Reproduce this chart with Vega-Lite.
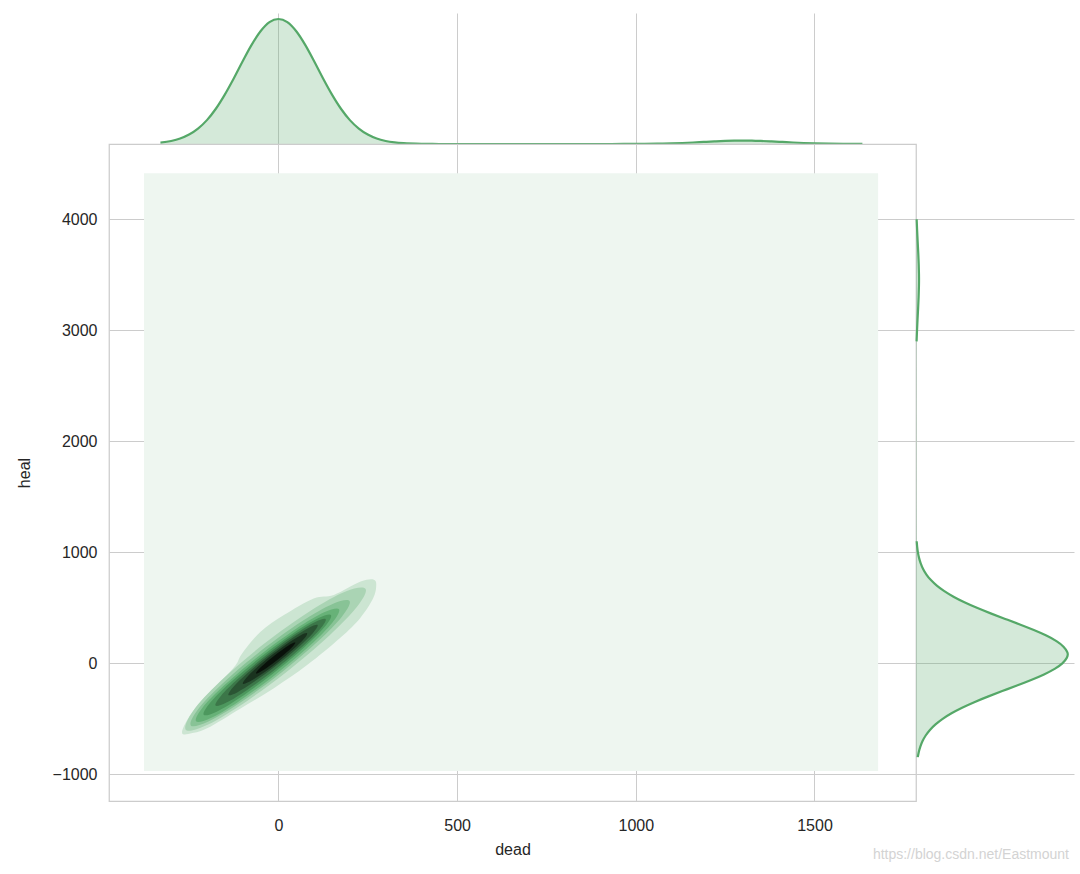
{
  "$schema": "https://vega.github.io/schema/vega-lite/v6.json",
  "padding": {"left": 15, "top": 13, "right": 5, "bottom": 0},
  "spacing": 0,
  "columns": 2,
  "bounds": "flush",
  "config": {
    "axis": {"labelFont": "Liberation Sans", "titleFont": "Liberation Sans", "labelFontSize": 16, "titleFontSize": 16, "labelColor": "#262626", "titleColor": "#262626", "gridColor": "#cccccc", "gridWidth": 1, "titleFontWeight": "normal"},
    "view": {"stroke": null}
  },
  "datasets": {
    "top": [
      {"dead": -330, "h": 0.0111}, {"dead": -300, "h": 0.0243}, {"dead": -275, "h": 0.0439}, {"dead": -250, "h": 0.0756},
      {"dead": -225, "h": 0.123}, {"dead": -200, "h": 0.191}, {"dead": -175, "h": 0.282}, {"dead": -150, "h": 0.395},
      {"dead": -125, "h": 0.524}, {"dead": -100, "h": 0.662}, {"dead": -75, "h": 0.793}, {"dead": -50, "h": 0.902},
      {"dead": -25, "h": 0.975}, {"dead": 0, "h": 1}, {"dead": 25, "h": 0.975}, {"dead": 50, "h": 0.902},
      {"dead": 75, "h": 0.793}, {"dead": 100, "h": 0.662}, {"dead": 125, "h": 0.524}, {"dead": 150, "h": 0.395},
      {"dead": 175, "h": 0.282}, {"dead": 200, "h": 0.191}, {"dead": 225, "h": 0.123}, {"dead": 250, "h": 0.0756},
      {"dead": 275, "h": 0.0439}, {"dead": 300, "h": 0.0243}, {"dead": 325, "h": 0.0127}, {"dead": 350, "h": 0.0063},
      {"dead": 400, "h": 0.0014}, {"dead": 450, "h": 0.0002}, {"dead": 500, "h": 0}, {"dead": 700, "h": 0},
      {"dead": 900, "h": 0.0001}, {"dead": 966, "h": 0.0003}, {"dead": 1020, "h": 0.0011}, {"dead": 1060, "h": 0.0025},
      {"dead": 1100, "h": 0.0052}, {"dead": 1130, "h": 0.0082}, {"dead": 1160, "h": 0.012}, {"dead": 1190, "h": 0.0164},
      {"dead": 1220, "h": 0.0207}, {"dead": 1250, "h": 0.0244}, {"dead": 1275, "h": 0.0263}, {"dead": 1300, "h": 0.027},
      {"dead": 1325, "h": 0.0263}, {"dead": 1350, "h": 0.0244}, {"dead": 1380, "h": 0.0207}, {"dead": 1410, "h": 0.0164},
      {"dead": 1440, "h": 0.012}, {"dead": 1470, "h": 0.0082}, {"dead": 1500, "h": 0.0052}, {"dead": 1540, "h": 0.0025},
      {"dead": 1580, "h": 0.0011}, {"dead": 1634, "h": 0.0003}
    ],
    "right": [
      {"seg": 1, "heal": -845, "h": 0.0117}, {"seg": 1, "heal": -800, "h": 0.0178}, {"seg": 1, "heal": -750, "h": 0.0278}, {"seg": 1, "heal": -700, "h": 0.0422},
      {"seg": 1, "heal": -650, "h": 0.0625}, {"seg": 1, "heal": -600, "h": 0.0902}, {"seg": 1, "heal": -550, "h": 0.1268}, {"seg": 1, "heal": -500, "h": 0.1738},
      {"seg": 1, "heal": -450, "h": 0.2318}, {"seg": 1, "heal": -400, "h": 0.3016}, {"seg": 1, "heal": -350, "h": 0.382}, {"seg": 1, "heal": -300, "h": 0.4717},
      {"seg": 1, "heal": -250, "h": 0.5675}, {"seg": 1, "heal": -200, "h": 0.665}, {"seg": 1, "heal": -150, "h": 0.7594}, {"seg": 1, "heal": -100, "h": 0.8449},
      {"seg": 1, "heal": -50, "h": 0.9158}, {"seg": 1, "heal": 0, "h": 0.9672}, {"seg": 1, "heal": 50, "h": 0.9953}, {"seg": 1, "heal": 80, "h": 1},
      {"seg": 1, "heal": 100, "h": 0.998}, {"seg": 1, "heal": 150, "h": 0.9748}, {"seg": 1, "heal": 200, "h": 0.9278}, {"seg": 1, "heal": 250, "h": 0.8604},
      {"seg": 1, "heal": 300, "h": 0.7774}, {"seg": 1, "heal": 350, "h": 0.6843}, {"seg": 1, "heal": 400, "h": 0.587}, {"seg": 1, "heal": 450, "h": 0.4905},
      {"seg": 1, "heal": 500, "h": 0.3994}, {"seg": 1, "heal": 550, "h": 0.3169}, {"seg": 1, "heal": 600, "h": 0.2449}, {"seg": 1, "heal": 650, "h": 0.1845},
      {"seg": 1, "heal": 700, "h": 0.1353}, {"seg": 1, "heal": 750, "h": 0.0968}, {"seg": 1, "heal": 800, "h": 0.0674}, {"seg": 1, "heal": 850, "h": 0.0457},
      {"seg": 1, "heal": 900, "h": 0.0302}, {"seg": 1, "heal": 950, "h": 0.0195}, {"seg": 1, "heal": 1000, "h": 0.0122}, {"seg": 1, "heal": 1050, "h": 0.0075},
      {"seg": 1, "heal": 1100, "h": 0.0045},
      {"seg": 2, "heal": 2900, "h": 0.0039}, {"seg": 2, "heal": 3000, "h": 0.0067},
      {"seg": 2, "heal": 3100, "h": 0.0102}, {"seg": 2, "heal": 3200, "h": 0.0141}, {"seg": 2, "heal": 3300, "h": 0.0175}, {"seg": 2, "heal": 3400, "h": 0.0196},
      {"seg": 2, "heal": 3460, "h": 0.02}, {"seg": 2, "heal": 3500, "h": 0.0198}, {"seg": 2, "heal": 3600, "h": 0.0181}, {"seg": 2, "heal": 3700, "h": 0.0148},
      {"seg": 2, "heal": 3800, "h": 0.011}, {"seg": 2, "heal": 3900, "h": 0.0073}, {"seg": 2, "heal": 4000, "h": 0.0044}
    ],
    "bg": [{"x1": -376, "x2": 1678, "y1": -970, "y2": 4414}],
    "kde": [
      {"lv": 1, "i": 0, "dead": -269.1, "heal": -630.9}, {"lv": 1, "i": 1, "dead": -240.4, "heal": -627.1},
      {"lv": 1, "i": 2, "dead": -199.6, "heal": -585.2}, {"lv": 1, "i": 3, "dead": -105.8, "heal": -405.7},
      {"lv": 1, "i": 4, "dead": -12.6, "heal": -223.8}, {"lv": 1, "i": 5, "dead": 80.2, "heal": -16.0},
      {"lv": 1, "i": 6, "dead": 173.2, "heal": 230.2}, {"lv": 1, "i": 7, "dead": 229.1, "heal": 409.5},
      {"lv": 1, "i": 8, "dead": 264.8, "heal": 583.8}, {"lv": 1, "i": 9, "dead": 273.6, "heal": 693.7},
      {"lv": 1, "i": 10, "dead": 267.3, "heal": 754.0}, {"lv": 1, "i": 11, "dead": 230.1, "heal": 736.4},
      {"lv": 1, "i": 12, "dead": 155.1, "heal": 615.8}, {"lv": 1, "i": 13, "dead": 98.7, "heal": 584.2},
      {"lv": 1, "i": 14, "dead": 15.4, "heal": 434.8}, {"lv": 1, "i": 15, "dead": -50.0, "heal": 284.9},
      {"lv": 1, "i": 16, "dead": -101.1, "heal": 90.9}, {"lv": 1, "i": 17, "dead": -119.8, "heal": -17.3},
      {"lv": 1, "i": 18, "dead": -162.0, "heal": -165.7}, {"lv": 1, "i": 19, "dead": -217.8, "heal": -345.0},
      {"lv": 1, "i": 20, "dead": -256.1, "heal": -514.0},

      {"lv": 2, "i": 0, "dead": -259.3, "heal": -598.4}, {"lv": 2, "i": 1, "dead": -206.4, "heal": -565.3},
      {"lv": 2, "i": 2, "dead": -108.6, "heal": -383.3}, {"lv": 2, "i": 3, "dead": 20.9, "heal": -81.7},
      {"lv": 2, "i": 4, "dead": 142.8, "heal": 251.5}, {"lv": 2, "i": 5, "dead": 221.0, "heal": 513.7},
      {"lv": 2, "i": 6, "dead": 243.6, "heal": 671.2}, {"lv": 2, "i": 7, "dead": 188.2, "heal": 648.2},
      {"lv": 2, "i": 8, "dead": 88.9, "heal": 472.4}, {"lv": 2, "i": 9, "dead": -41.2, "heal": 173.5},
      {"lv": 2, "i": 10, "dead": -162.5, "heal": -162.4}, {"lv": 2, "i": 11, "dead": -239.2, "heal": -430.8},

      {"lv": 3, "i": 0, "dead": -245.1, "heal": -558.9}, {"lv": 3, "i": 1, "dead": -198.8, "heal": -528.4},
      {"lv": 3, "i": 2, "dead": -112.7, "heal": -366.6}, {"lv": 3, "i": 3, "dead": 1.6, "heal": -99.9},
      {"lv": 3, "i": 4, "dead": 109.3, "heal": 194.1}, {"lv": 3, "i": 5, "dead": 178.6, "heal": 424.6},
      {"lv": 3, "i": 6, "dead": 199.0, "heal": 562.4}, {"lv": 3, "i": 7, "dead": 151.6, "heal": 535.5},
      {"lv": 3, "i": 8, "dead": 64.9, "heal": 376.2}, {"lv": 3, "i": 9, "dead": -49.6, "heal": 110.4},
      {"lv": 3, "i": 10, "dead": -157.1, "heal": -184.5}, {"lv": 3, "i": 11, "dead": -225.8, "heal": -417.5},

      {"lv": 4, "i": 0, "dead": -230.4, "heal": -521.9}, {"lv": 4, "i": 1, "dead": -189.2, "heal": -492.2},
      {"lv": 4, "i": 2, "dead": -112.0, "heal": -345.0}, {"lv": 4, "i": 3, "dead": -9.1, "heal": -104.2},
      {"lv": 4, "i": 4, "dead": 88.0, "heal": 160.0}, {"lv": 4, "i": 5, "dead": 150.8, "heal": 366.3},
      {"lv": 4, "i": 6, "dead": 169.6, "heal": 488.2}, {"lv": 4, "i": 7, "dead": 128.0, "heal": 459.7},
      {"lv": 4, "i": 8, "dead": 50.6, "heal": 313.4}, {"lv": 4, "i": 9, "dead": -52.3, "heal": 73.0},
      {"lv": 4, "i": 10, "dead": -149.4, "heal": -191.6}, {"lv": 4, "i": 11, "dead": -212.0, "heal": -398.8},

      {"lv": 5, "i": 0, "dead": -209.0, "heal": -463.9}, {"lv": 5, "i": 1, "dead": -172.9, "heal": -435.1},
      {"lv": 5, "i": 2, "dead": -104.5, "heal": -302.6}, {"lv": 5, "i": 3, "dead": -13.2, "heal": -87.7},
      {"lv": 5, "i": 4, "dead": 73.5, "heal": 146.8}, {"lv": 5, "i": 5, "dead": 129.7, "heal": 328.9},
      {"lv": 5, "i": 6, "dead": 147.0, "heal": 435.0}, {"lv": 5, "i": 7, "dead": 110.9, "heal": 406.2},
      {"lv": 5, "i": 8, "dead": 42.5, "heal": 273.7}, {"lv": 5, "i": 9, "dead": -48.8, "heal": 58.8},
      {"lv": 5, "i": 10, "dead": -135.5, "heal": -175.7}, {"lv": 5, "i": 11, "dead": -191.7, "heal": -357.8},

      {"lv": 6, "i": 0, "dead": -176.0, "heal": -380.5}, {"lv": 6, "i": 1, "dead": -145.3, "heal": -353.3},
      {"lv": 6, "i": 2, "dead": -86.4, "heal": -237.1}, {"lv": 6, "i": 3, "dead": -7.4, "heal": -50.3},
      {"lv": 6, "i": 4, "dead": 67.7, "heal": 152.2}, {"lv": 6, "i": 5, "dead": 116.8, "heal": 308.4},
      {"lv": 6, "i": 6, "dead": 132.3, "heal": 398.0}, {"lv": 6, "i": 7, "dead": 101.6, "heal": 370.7},
      {"lv": 6, "i": 8, "dead": 42.7, "heal": 254.5}, {"lv": 6, "i": 9, "dead": -36.2, "heal": 67.8},
      {"lv": 6, "i": 10, "dead": -111.4, "heal": -134.8}, {"lv": 6, "i": 11, "dead": -160.5, "heal": -291.0},

      {"lv": 7, "i": 0, "dead": -139.9, "heal": -285.5}, {"lv": 7, "i": 1, "dead": -115.4, "heal": -261.8},
      {"lv": 7, "i": 2, "dead": -68.0, "heal": -166.8}, {"lv": 7, "i": 3, "dead": -4.1, "heal": -15.3},
      {"lv": 7, "i": 4, "dead": 56.8, "heal": 148.2}, {"lv": 7, "i": 5, "dead": 96.8, "heal": 273.8},
      {"lv": 7, "i": 6, "dead": 109.7, "heal": 344.7}, {"lv": 7, "i": 7, "dead": 85.3, "heal": 321.0},
      {"lv": 7, "i": 8, "dead": 37.9, "heal": 226.0}, {"lv": 7, "i": 9, "dead": -26.0, "heal": 74.5},
      {"lv": 7, "i": 10, "dead": -86.9, "heal": -89.0}, {"lv": 7, "i": 11, "dead": -126.9, "heal": -214.6},

      {"lv": 8, "i": 0, "dead": -99.5, "heal": -183.6}, {"lv": 8, "i": 1, "dead": -81.7, "heal": -166.8},
      {"lv": 8, "i": 2, "dead": -47.6, "heal": -98.6}, {"lv": 8, "i": 3, "dead": -1.5, "heal": 10.4},
      {"lv": 8, "i": 4, "dead": 42.4, "heal": 128.4}, {"lv": 8, "i": 5, "dead": 71.1, "heal": 219.0},
      {"lv": 8, "i": 6, "dead": 80.3, "heal": 270.5}, {"lv": 8, "i": 7, "dead": 62.6, "heal": 253.9},
      {"lv": 8, "i": 8, "dead": 28.4, "heal": 185.7}, {"lv": 8, "i": 9, "dead": -17.6, "heal": 76.6},
      {"lv": 8, "i": 10, "dead": -61.6, "heal": -41.3}, {"lv": 8, "i": 11, "dead": -90.2, "heal": -131.9},

      {"lv": 9, "i": 0, "dead": -62.8, "heal": -90.9}, {"lv": 9, "i": 1, "dead": -52.2, "heal": -79.9},
      {"lv": 9, "i": 2, "dead": -31.3, "heal": -37.7}, {"lv": 9, "i": 3, "dead": -3.2, "heal": 29.2},
      {"lv": 9, "i": 4, "dead": 23.8, "heal": 101.3}, {"lv": 9, "i": 5, "dead": 41.4, "heal": 156.4},
      {"lv": 9, "i": 6, "dead": 47.3, "heal": 187.1}, {"lv": 9, "i": 7, "dead": 36.6, "heal": 176.2},
      {"lv": 9, "i": 8, "dead": 15.8, "heal": 133.9}, {"lv": 9, "i": 9, "dead": -12.4, "heal": 67.0},
      {"lv": 9, "i": 10, "dead": -39.3, "heal": -5.1}, {"lv": 9, "i": 11, "dead": -57.0, "heal": -60.1}
    ]
  },
  "concat": [
    {
      "width": 807, "height": 131,
      "data": {"name": "top"},
      "mark": {"type": "area", "color": "#55a868", "fillOpacity": 0.25, "interpolate": "monotone", "line": {"color": "#55a868", "strokeWidth": 2.2}},
      "encoding": {
        "x": {"field": "dead", "type": "quantitative", "scale": {"domain": [-474, 1784], "nice": false, "zero": false},
              "axis": {"values": [0, 500, 1000, 1500], "grid": true, "labels": false, "ticks": false, "domain": false, "title": null, "minExtent": 0, "maxExtent": 0}},
        "y": {"field": "h", "type": "quantitative", "scale": {"domain": [0, 1.048], "nice": false}, "axis": null}
      }
    },
    {
      "width": 158, "height": 131,
      "data": {"values": [{"t": ""}]},
      "mark": {"type": "text"},
      "encoding": {"text": {"field": "t"}}
    },
    {
      "width": 807, "height": 657,
      "view": {"stroke": "#cccccc", "strokeWidth": 1.25},
      "layer": [
        {
          "data": {"name": "bg"},
          "mark": {"type": "rect", "color": "#eef6f0"},
          "encoding": {
            "x": {"field": "x1", "type": "quantitative", "title": "dead", "scale": {"domain": [-474, 1784], "nice": false, "zero": false},
                  "axis": {"values": [0, 500, 1000, 1500], "format": "d", "grid": true, "ticks": false, "domain": false, "labelPadding": 16, "titlePadding": 8, "title": "dead"}},
            "x2": {"field": "x2"},
            "y": {"field": "y1", "type": "quantitative", "title": "heal", "scale": {"domain": [-1240, 4678], "nice": false, "zero": false},
                  "axis": {"values": [-1000, 0, 1000, 2000, 3000, 4000], "format": "d", "grid": true, "ticks": false, "domain": false, "labelPadding": 12, "titlePadding": 20, "title": "heal"}},
            "y2": {"field": "y2"}
          }
        },
        {
          "data": {"name": "kde"},
          "mark": {"type": "line", "filled": true, "interpolate": "cardinal-closed", "strokeWidth": 0},
          "encoding": {
            "x": {"field": "dead", "type": "quantitative", "title": "dead"},
            "y": {"field": "heal", "type": "quantitative", "title": "heal"},
            "color": {"field": "lv", "type": "ordinal", "legend": null,
                      "scale": {"domain": [1, 2, 3, 4, 5, 6, 7, 8, 9], "range": ["#cce5d2", "#aad4b4", "#88c396", "#67b278", "#4d985e", "#3c7749", "#2b5534", "#1a331f", "#09110a"]}},
            "order": {"field": "i", "type": "quantitative"}
          }
        }
      ]
    },
    {
      "width": 158, "height": 657,
      "data": {"name": "right"},
      "title": {"text": "https://blog.csdn.net/Eastmount", "orient": "bottom", "anchor": "end", "offset": 47, "dx": -5, "fontSize": 14, "color": "#d3d3d3", "font": "Liberation Sans", "fontWeight": "normal"},
      "encoding": {
        "y": {"field": "heal", "type": "quantitative", "scale": {"domain": [-1240, 4678], "nice": false, "zero": false},
              "axis": {"values": [-1000, 0, 1000, 2000, 3000, 4000], "grid": true, "labels": false, "ticks": false, "domain": false, "title": null, "minExtent": 0, "maxExtent": 0}},
        "x": {"field": "h", "type": "quantitative", "scale": {"domain": [0, 1.04], "nice": false}, "axis": null},
        "detail": {"field": "seg", "type": "nominal"}
      },
      "layer": [
        {"mark": {"type": "area", "orient": "horizontal", "color": "#55a868", "fillOpacity": 0.25, "interpolate": "basis"}},
        {"mark": {"type": "line", "color": "#55a868", "strokeWidth": 2.2, "interpolate": "basis"},
         "encoding": {"order": {"field": "heal", "type": "quantitative"}}}
      ]
    }
  ]
}
